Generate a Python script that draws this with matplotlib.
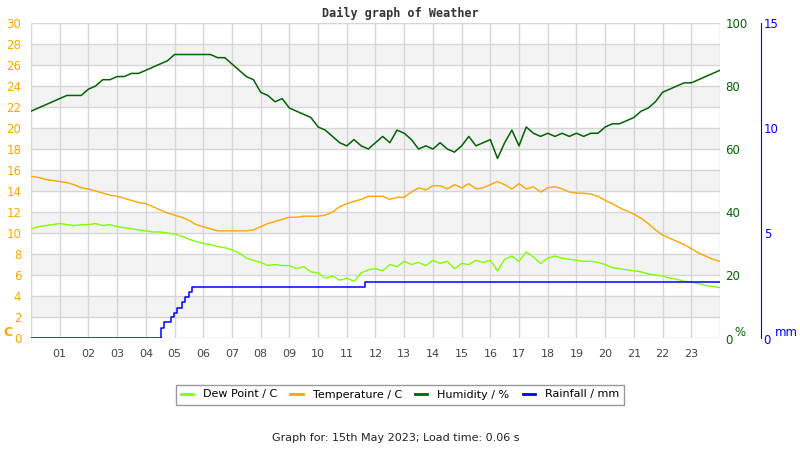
import numpy as np
import matplotlib
matplotlib.use('Agg')
import matplotlib.pyplot as plt
from matplotlib.lines import Line2D

# %%
# readings every 15 minutes, 00:00 .. 24:00
hours = np.arange(97) * 0.25

temperature = [15.4, 15.3, 15.1, 15.0, 14.9, 14.8, 14.6, 14.3, 14.2, 14.0, 13.8, 13.6,
               13.5, 13.3, 13.1, 12.9, 12.8, 12.5, 12.2, 11.9, 11.7, 11.5, 11.2, 10.8,
               10.6, 10.4, 10.2, 10.2, 10.2, 10.2, 10.2, 10.3, 10.6, 10.9, 11.1, 11.3,
               11.5, 11.5, 11.6, 11.6, 11.6, 11.7, 12.0, 12.5, 12.8, 13.0, 13.2, 13.5,
               13.5, 13.5, 13.2, 13.4, 13.4, 13.9, 14.3, 14.1, 14.5, 14.5, 14.2, 14.6,
               14.3, 14.7, 14.2, 14.3, 14.6, 14.9, 14.6, 14.2, 14.7, 14.2, 14.4, 13.9,
               14.3, 14.4, 14.2, 13.9, 13.8, 13.8, 13.7, 13.5, 13.1, 12.8, 12.4, 12.1,
               11.8, 11.4, 10.9, 10.3, 9.8, 9.5, 9.2, 8.9, 8.5, 8.1, 7.8, 7.5, 7.3]

dew_point = [10.4, 10.6, 10.7, 10.8, 10.9, 10.8, 10.7, 10.8, 10.8, 10.9, 10.7, 10.8,
             10.6, 10.5, 10.4, 10.3, 10.2, 10.1, 10.1, 10.0, 9.9, 9.7, 9.4, 9.2,
             9.0, 8.9, 8.7, 8.6, 8.4, 8.1, 7.6, 7.4, 7.2, 6.9, 7.0, 6.9,
             6.9, 6.6, 6.8, 6.3, 6.2, 5.7, 5.9, 5.5, 5.7, 5.4, 6.2, 6.5,
             6.6, 6.4, 7.0, 6.8, 7.3, 7.0, 7.2, 6.9, 7.4, 7.1, 7.3, 6.6,
             7.1, 7.0, 7.4, 7.2, 7.4, 6.4, 7.5, 7.8, 7.3, 8.2, 7.7, 7.1,
             7.6, 7.8, 7.6, 7.5, 7.4, 7.3, 7.3, 7.2, 7.0, 6.7, 6.6, 6.5,
             6.4, 6.3, 6.1, 6.0, 5.9, 5.7, 5.6, 5.4, 5.3, 5.2, 5.0, 4.9, 4.8]

humidity = [72, 73, 74, 75, 76, 77, 77, 77, 79, 80, 82, 82,
            83, 83, 84, 84, 85, 86, 87, 88, 90, 90, 90, 90,
            90, 90, 89, 89, 87, 85, 83, 82, 78, 77, 75, 76,
            73, 72, 71, 70, 67, 66, 64, 62, 61, 63, 61, 60,
            62, 64, 62, 66, 65, 63, 60, 61, 60, 62, 60, 59,
            61, 64, 61, 62, 63, 57, 62, 66, 61, 67, 65, 64,
            65, 64, 65, 64, 65, 64, 65, 65, 67, 68, 68, 69,
            70, 72, 73, 75, 78, 79, 80, 81, 81, 82, 83, 84, 85]

# rain gauge steps (time of tip, running total)
rain_time = [0, 4.53, 4.63, 4.87, 4.98, 5.10, 5.25, 5.36, 5.51, 5.62, 11.65, 24]
rain_mm = [0, 0.5, 0.75, 1.0, 1.2, 1.45, 1.7, 1.95, 2.2, 2.45, 2.65, 2.65]

hour_labels = ['%02d' % h for h in range(1, 24)]

ORANGE = '#ffa500'
DEW = '#7fff00'
GREEN = '#006400'
BLUE = '#0000ff'
GRID = '#d6d6d6'

# %%
fig = plt.figure(figsize=(8, 4.5), dpi=100)
ax = fig.add_axes([31 / 800, 1 - 338 / 450, 689 / 800, 315 / 450])
ax2 = ax.twinx()
ax3 = ax.twinx()

# background bands + grid
for y0 in range(2, 28, 4):
    ax.axhspan(y0, y0 + 2, color='#f3f3f3', zorder=0, lw=0)
for y in range(0, 31, 2):
    ax.axhline(y, color=GRID, lw=1, zorder=0.5)
for x in range(0, 25):
    ax.axvline(x, color=GRID, lw=1, zorder=0.5)

ax.plot(hours, dew_point, color=DEW, lw=1, zorder=2)
ax.plot(hours, temperature, color=ORANGE, lw=1, zorder=2)
ax2.plot(hours, humidity, color=GREEN, lw=1.1)
ax3.plot(rain_time, rain_mm, color=BLUE, lw=1.1, drawstyle='steps-post')

ax.set_xlim(0, 24)
ax.set_ylim(0, 30)
ax2.set_ylim(0, 100)
ax3.set_ylim(0, 15)

ax.set_xticks(range(1, 24))
ax.set_xticklabels(hour_labels)
ax.set_yticks(range(0, 31, 2))
ax.tick_params(axis='x', length=0, pad=8, labelsize=8, labelcolor='#444444')
ax.tick_params(axis='y', length=0, pad=7, labelsize=8.5, labelcolor=ORANGE)

ax2.set_yticks(range(0, 101, 20))
ax2.set_yticklabels(['', '20', '40', '60', '80', '100'])
ax2.tick_params(axis='y', length=0, pad=4, labelsize=8.5, labelcolor=GREEN)

ax3.set_yticks([0, 5, 10, 15])
ax3.set_yticklabels(['', '5', '10', '15'])
ax3.spines['right'].set_position(('outward', 29.5))
ax3.spines['right'].set_color(BLUE)
ax3.tick_params(axis='y', length=0, pad=2, labelsize=8.5, labelcolor=BLUE)

for a in (ax, ax2, ax3):
    for s in ['top', 'left', 'bottom']:
        a.spines[s].set_visible(False)
ax.spines['right'].set_visible(False)
ax2.spines['right'].set_visible(False)

# axis unit labels
fig.text(3 / 800, 1 - 333 / 450, 'C', color=ORANGE, fontsize=9, fontweight='bold', va='center')
fig.text(725 / 800, 1 - 340 / 450, '0', color=GREEN, fontsize=8.5, va='center')
fig.text(734 / 800, 1 - 333 / 450, '%', color=GREEN, fontsize=8.5, va='center')
fig.text(763 / 800, 1 - 340 / 450, '0', color=BLUE, fontsize=8.5, va='center')
fig.text(775 / 800, 1 - 333 / 450, 'mm', color=BLUE, fontsize=8.5, va='center')

fig.text(0.5, 1 - 13 / 450, 'Daily graph of Weather', family='DejaVu Sans Mono',
         fontweight='bold', fontsize=8.5, color='#333333', ha='center', va='center')

handles = [Line2D([], [], color=DEW, lw=2),
           Line2D([], [], color=ORANGE, lw=2),
           Line2D([], [], color=GREEN, lw=2),
           Line2D([], [], color=BLUE, lw=2)]
labels = ['Dew Point / C', 'Temperature / C', 'Humidity / %', 'Rainfall / mm']
leg = fig.legend(handles, labels, loc='center', bbox_to_anchor=(400 / 800, 1 - 394.5 / 450),
                 ncol=4, fontsize=8, frameon=True, fancybox=False, handlelength=1.1,
                 handletextpad=0.9, columnspacing=1.2, borderpad=0.45, borderaxespad=0)
leg.get_frame().set_edgecolor('#808080')
leg.get_frame().set_linewidth(1)

fig.text(396 / 800, 1 - 438 / 450, 'Graph for: 15th May 2023; Load time: 0.06 s',
         fontsize=8, color='#222222', ha='center', va='center')

fig.savefig('out.png', dpi=100)
